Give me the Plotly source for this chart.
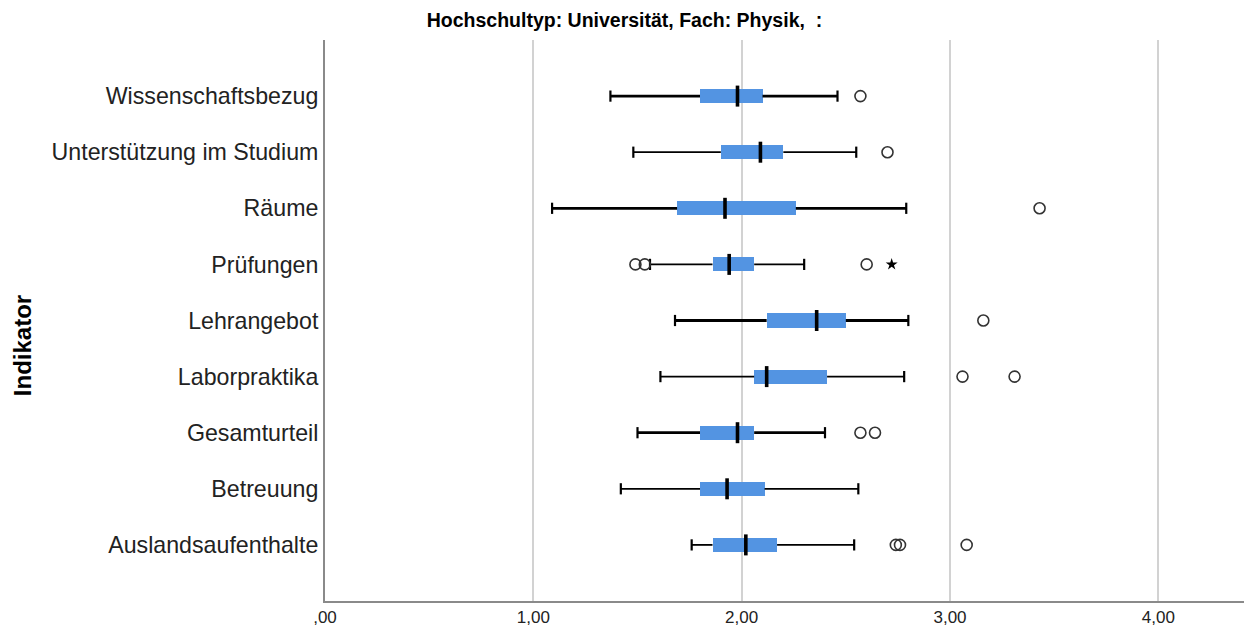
import plotly.graph_objects as go

# ---- data ----
categories = ["Auslandsaufenthalte", "Betreuung", "Gesamturteil", "Laborpraktika",
              "Lehrangebot", "Prüfungen", "Räume", "Unterstützung im Studium",
              "Wissenschaftsbezug"]
lower_whisker = [1.76, 1.42, 1.50, 1.61, 1.68, 1.56, 1.09, 1.48, 1.37]
q1            = [1.86, 1.80, 1.80, 2.06, 2.12, 1.86, 1.69, 1.90, 1.80]
median        = [2.02, 1.93, 1.98, 2.12, 2.36, 1.94, 1.92, 2.09, 1.98]
q3            = [2.17, 2.11, 2.06, 2.41, 2.50, 2.06, 2.26, 2.20, 2.10]
upper_whisker = [2.54, 2.56, 2.40, 2.78, 2.80, 2.30, 2.79, 2.55, 2.46]

outlier_cats = ["Auslandsaufenthalte", "Auslandsaufenthalte", "Auslandsaufenthalte",
                "Gesamturteil", "Gesamturteil",
                "Laborpraktika", "Laborpraktika",
                "Lehrangebot",
                "Prüfungen", "Prüfungen", "Prüfungen",
                "Räume",
                "Unterstützung im Studium",
                "Wissenschaftsbezug"]
outlier_vals = [2.74, 2.76, 3.08,
                2.57, 2.64,
                3.06, 3.31,
                3.16,
                1.49, 1.535, 2.60,
                3.43,
                2.70,
                2.57]
extreme_cats = ["Prüfungen"]
extreme_vals = [2.72]

thick_whisker_cats = ["Wissenschaftsbezug", "Räume", "Lehrangebot", "Gesamturteil"]

x_tick_vals = [0, 1, 2, 3, 4]
x_tick_text = [",00", "1,00", "2,00", "3,00", "4,00"]

title_text = "Hochschultyp: Universität, Fach: Physik,  :"
y_title = "Indikator"

# ---- figure ----
BOX_BLUE = "#5394E2"
NARROW = "Liberation Sans Narrow, Liberation Sans, Arial"
fig = go.Figure()

# boxes
fig.add_trace(go.Bar(
    y=categories, x=[b - a for a, b in zip(q1, q3)], base=q1,
    orientation="h", width=0.25,
    marker=dict(color=BOX_BLUE, line=dict(width=0)),
    hoverinfo="skip", showlegend=False))

# whiskers, two line weights
for thick in (True, False):
    xs, ys = [], []
    for i, c in enumerate(categories):
        if (c in thick_whisker_cats) != thick:
            continue
        xs += [lower_whisker[i], q1[i], None, q3[i], upper_whisker[i], None]
        ys += [c, c, None, c, c, None]
    fig.add_trace(go.Scatter(
        x=xs, y=ys, mode="lines",
        line=dict(color="black", width=2.8 if thick else 1.8),
        hoverinfo="skip", showlegend=False))

# whisker caps
fig.add_trace(go.Scatter(
    x=lower_whisker + upper_whisker, y=categories + categories, mode="markers",
    marker=dict(symbol="line-ns", size=8, line=dict(color="black", width=2.2)),
    hoverinfo="skip", showlegend=False))

# medians
fig.add_trace(go.Scatter(
    x=median, y=categories, mode="markers",
    marker=dict(symbol="line-ns", size=15, line=dict(color="black", width=3.6)),
    hoverinfo="skip", showlegend=False))

# outliers
fig.add_trace(go.Scatter(
    x=outlier_vals, y=outlier_cats, mode="markers",
    marker=dict(symbol="circle-open", size=11, color="#333333",
                line=dict(color="#333333", width=1.6)),
    hoverinfo="skip", showlegend=False))

# extremes
fig.add_trace(go.Scatter(
    x=extreme_vals, y=extreme_cats, mode="markers",
    marker=dict(symbol="star", size=9, color="black"),
    hoverinfo="skip", showlegend=False))

fig.update_layout(
    width=1252, height=630,
    margin=dict(l=317, r=10, t=32, b=37),
    plot_bgcolor="white", paper_bgcolor="white",
    font=dict(family="Liberation Sans, Arial, sans-serif", color="#222222"),
    title=dict(text=f"<b>{title_text}</b>", x=0.4924, xanchor="center", y=0.981,
               yanchor="middle",
               font=dict(family=NARROW, size=19.5, color="black")),
    bargap=0,
    xaxis=dict(range=[0, 4.44], tickvals=x_tick_vals, ticktext=x_tick_text,
               showgrid=True, gridcolor="#d2d2d2", gridwidth=2,
               zeroline=False, showline=True, linecolor="#8a8a8a", linewidth=2,
               ticks="", tickfont=dict(size=17, color="#222222", family=NARROW)),
    yaxis=dict(type="category", categoryorder="array", categoryarray=categories,
               range=[-1, 9], showgrid=False, zeroline=False,
               showline=True, linecolor="#8a8a8a", linewidth=2, ticks="",
               ticklabelstandoff=0,
               tickfont=dict(size=23.2, color="#222222")),
    annotations=[dict(text=f"<b>{y_title}</b>", xref="paper", yref="paper",
                      x=-0.3276, y=0.456, textangle=-90, showarrow=False,
                      xanchor="center", yanchor="middle",
                      font=dict(size=24, color="black"))],
)

fig.write_html("out.html")
